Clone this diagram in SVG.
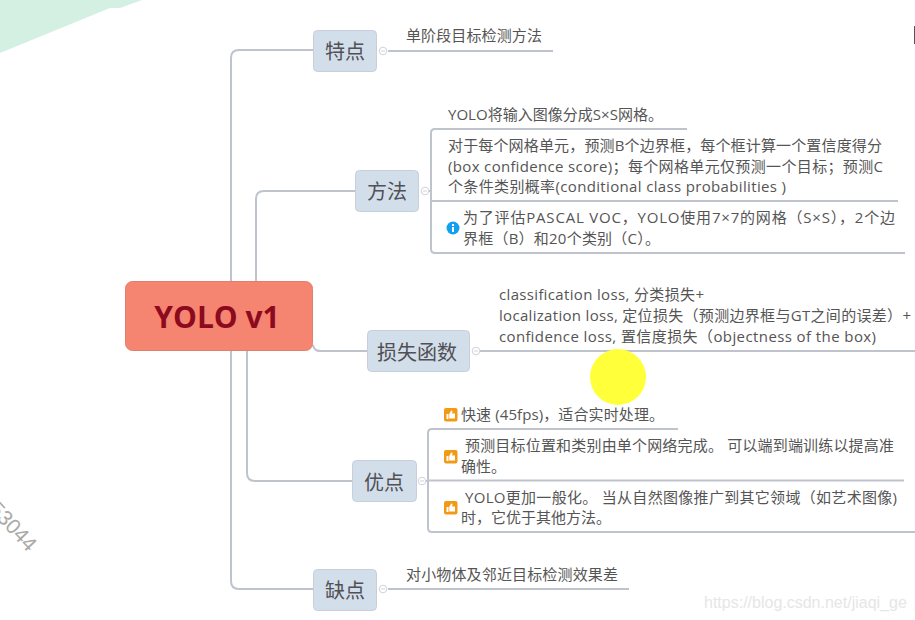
<svg xmlns="http://www.w3.org/2000/svg" width="915" height="620" viewBox="0 0 915 620">
<style>
.c{fill:none;stroke:#bfc3cd;stroke-width:2}
.t{font-family:"Open Sans","Noto Sans CJK SC",sans-serif;font-size:15px;fill:#555}
.n{fill:#d3deeb;stroke:#c8cfdb;stroke-width:1}
.l{font-family:"Noto Sans CJK SC",sans-serif;font-size:20px;fill:#505055;text-anchor:middle}
.o{fill:#fff;stroke:#ced3db;stroke-width:1}
.m{stroke:#ced3db;stroke-width:1}
.b{fill:#f29a16}
.w{fill:#fff}
</style>
<defs>
<g id="thumb"><rect x="0" y="0" width="13.500" height="13.500" rx="2" class="b"/><path class="w" d="M2.500 6h2v5h-2zM5.200 6l2-3.500 1.300.6-.4 2.400H11v5H5.200z"/></g>
<g id="tog"><circle class="o" r="3.800"/><path class="m" d="M-2 0H2"/></g>
</defs>
<rect width="915" height="620" fill="#fff"/>
<polygon points="0,0 142,0 120,8 110,8 0,53" fill="#d3f0e2"/>
<rect x="914" y="26" width="1" height="18" fill="#555"/>
<text transform="translate(-12,510) rotate(47)" font-family="'Liberation Sans',sans-serif" font-size="21" fill="#a9a9a9">53044</text>
<g id="connectors">
<path class="c" d="M231 281V58Q231 50 239 50H313"/>
<path class="c" d="M256 281V199Q256 191 264 191H355"/>
<path class="c" d="M313 345Q314 351 320 351H367"/>
<path class="c" d="M247 351V473Q247 481 255 481H352"/>
<path class="c" d="M231 351V581Q231 589 239 589H313"/>
<path class="c" d="M388 51H553"/>
<path class="c" d="M388 589H629"/>
<path class="c" d="M480 351H915"/>
<path class="c" d="M429 191H431"/>
<path class="c" d="M687 129H435Q431 129 431 133V249Q431 253 435 253H905"/>
<path class="c" d="M431 201H898"/>
<path class="c" d="M426 481H428"/>
<path class="c" d="M678 429H432Q428 429 428 433V528Q428 532 432 532H915"/>
<path class="c" d="M428 480.500H904"/>
<use href="#tog" x="383" y="51"/>
<use href="#tog" x="425" y="191"/>
<use href="#tog" x="476" y="351"/>
<use href="#tog" x="422" y="481"/>
<use href="#tog" x="383" y="589"/>
</g>
<g id="root"><rect x="125.500" y="281.500" width="187" height="69" rx="7" fill="#f58470" stroke="#e0806c"/><text x="217" y="328" text-anchor="middle" font-family="'Open Sans','Liberation Sans',sans-serif" font-weight="700" font-size="30" fill="#8c0a1e">YOLO v1</text></g>
<g id="n1"><rect class="n" x="313.500" y="30.500" width="63" height="41" rx="4"/><text class="l" x="345" y="59">特点</text></g>
<g id="n2"><rect class="n" x="355.500" y="170.500" width="63" height="41" rx="4"/><text class="l" x="387" y="199">方法</text></g>
<g id="n3"><rect class="n" x="367.500" y="330.500" width="102" height="41" rx="4"/><text class="l" x="417" y="360">损失函数</text></g>
<g id="n4"><rect class="n" x="352.500" y="460.500" width="64" height="41" rx="4"/><text class="l" x="384" y="490">优点</text></g>
<g id="n5"><rect class="n" x="313.500" y="569.500" width="63" height="41" rx="4"/><text class="l" x="345" y="598">缺点</text></g>
<g id="a1"><text class="t" x="406" y="41" textLength="136">单阶段目标检测方法</text></g>
<g id="b1"><text class="t" x="448" y="120" textLength="215">YOLO将输入图像分成S×S网格。</text></g>
<g id="b2"><text class="t" x="448" y="151" textLength="434">对于每个网格单元，预测B个边界框，每个框计算一个置信度得分</text><text class="t" x="448" y="172" textLength="435">(box confidence score)；每个网格单元仅预测一个目标；预测C</text><text class="t" x="448" y="192" textLength="338">个条件类别概率(conditional class probabilities )</text></g>
<g id="b3"><circle cx="453" cy="228" r="6.500" fill="#12a0f0"/><rect x="452" y="227" width="2" height="5" fill="#fff"/><rect x="452" y="224" width="2" height="2" fill="#fff"/><text class="t" x="463" y="223" textLength="432">为了评估PASCAL VOC，YOLO使用7×7的网格（S×S），2个边</text><text class="t" x="463" y="244" textLength="197">界框（B）和20个类别（C）。</text></g>
<g id="c1"><text class="t" x="499" y="300" textLength="205">classification loss, 分类损失+</text><text class="t" x="499" y="321" textLength="412">localization loss, 定位损失（预测边界框与GT之间的误差）+</text><text class="t" x="499" y="342" textLength="377">confidence loss, 置信度损失（objectness of the box)</text></g>
<circle cx="618" cy="377" r="28" fill="#ffff3a"/>
<g id="d1"><use href="#thumb" x="444" y="408"/><text class="t" x="461" y="420" textLength="203">快速 (45fps)，适合实时处理。</text></g>
<g id="d2"><use href="#thumb" x="444" y="450"/><text class="t" x="465" y="451" textLength="429">预测目标位置和类别由单个网络完成。 可以端到端训练以提高准</text><text class="t" x="461" y="472" textLength="45">确性。</text></g>
<g id="d3"><use href="#thumb" x="444" y="501"/><text class="t" x="465" y="503" textLength="432">YOLO更加一般化。 当从自然图像推广到其它领域（如艺术图像)</text><text class="t" x="461" y="523" textLength="150">时，它优于其他方法。</text></g>
<g id="e1"><text class="t" x="406" y="580" textLength="212">对小物体及邻近目标检测效果差</text></g>
<text x="704" y="608" font-family="'Liberation Sans',sans-serif" font-size="16" fill="#e6e6e6">https://blog.csdn.net/jiaqi_ge</text>
</svg>
